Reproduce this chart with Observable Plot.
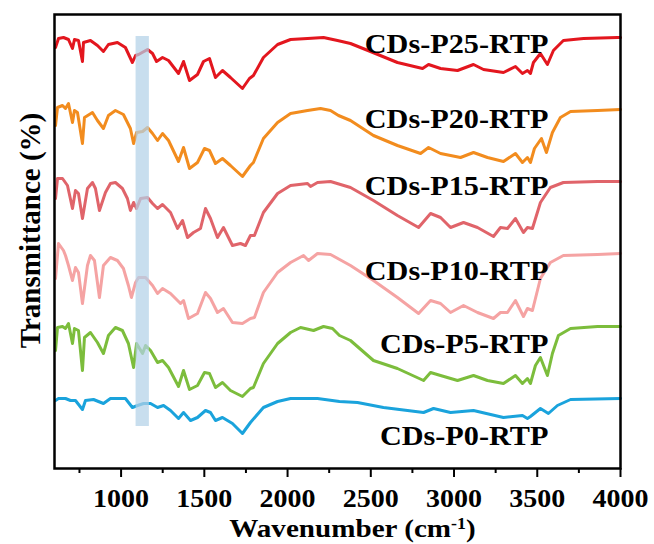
<!DOCTYPE html>
<html><head><meta charset="utf-8">
<script src="https://cdn.jsdelivr.net/npm/d3@7"></script>
<script src="https://cdn.jsdelivr.net/npm/@observablehq/plot@0.6"></script>
<style>body{margin:0;background:#fff}</style>
</head><body><div id="chart"></div>
<script>
// Series names (top to bottom) and colours
const seriesNames = ["CDs-P25-RTP","CDs-P20-RTP","CDs-P15-RTP","CDs-P10-RTP","CDs-P5-RTP","CDs-P0-RTP"];
const seriesColors = ["#e3161e","#f28c1e","#e0646a","#f5a3a3","#7cbd3c","#1aa3dc"];

// [wavenumber (cm-1), offset transmittance (a.u.)]
const p25 = [[606,453],[624,462],[654,463],[684,461],[708,452],[720,461],[744,460],[768,439],[774,458],[816,460],[858,455],[894,449],[924,456],[978,458],[1026,453],[1068,438],[1087,445],[1105,446],[1159,451],[1189,447],[1213,439],[1249,443],[1285,440],[1345,427],[1375,439],[1411,420],[1459,426],[1495,439],[1531,442],[1567,423],[1609,430],[1657,423],[1729,412],[1771,422],[1795,425],[1855,443],[1940,456],[2018,461],[2120,462],[2216,463],[2300,460],[2378,457],[2498,449],[2660,438],[2811,432],[2847,436],[2919,432],[3021,430],[3117,436],[3177,431],[3297,428],[3369,434],[3411,427],[3441,430],[3459,427],[3477,438],[3519,447],[3561,436],[3597,450],[3657,460],[3778,462],[3982,463],[4000,463]];
const p20 = [[606,375],[618,393],[648,395],[666,392],[684,397],[708,378],[720,390],[738,388],[768,357],[780,383],[828,388],[858,380],[894,372],[924,385],[966,390],[1014,386],[1056,372],[1075,357],[1093,368],[1129,369],[1159,373],[1189,367],[1219,360],[1249,367],[1285,360],[1345,339],[1375,353],[1411,332],[1459,338],[1501,352],[1531,350],[1567,337],[1609,342],[1657,335],[1729,324],[1777,335],[1795,338],[1855,362],[1940,378],[2018,387],[2120,390],[2198,392],[2258,390],[2306,385],[2378,380],[2516,365],[2660,355],[2799,347],[2847,353],[2919,347],[3039,343],[3117,348],[3201,343],[3297,339],[3369,347],[3411,338],[3441,343],[3459,338],[3483,352],[3525,362],[3555,348],[3591,368],[3639,383],[3700,389],[3862,390],[4000,391]];
const p15 = [[606,302],[618,322],[648,322],[678,315],[708,292],[726,310],[744,307],[768,282],[798,312],[828,318],[846,312],[870,290],[906,308],[936,317],[966,318],[1008,312],[1038,302],[1056,290],[1075,298],[1093,292],[1117,302],[1159,303],[1189,297],[1219,292],[1249,296],[1297,288],[1339,272],[1369,280],[1399,263],[1435,268],[1477,272],[1507,292],[1537,282],[1579,263],[1615,273],[1669,255],[1717,257],[1747,255],[1777,265],[1801,265],[1855,288],[1940,307],[2018,315],[2120,317],[2138,314],[2180,318],[2258,319],[2378,313],[2516,300],[2660,285],[2787,273],[2859,287],[2919,283],[2979,273],[3057,278],[3141,273],[3237,264],[3279,273],[3321,272],[3369,282],[3417,268],[3441,273],[3471,272],[3519,298],[3579,313],[3657,318],[3862,319],[4000,319]];
const p10 = [[606,222],[624,257],[654,250],[666,245],[684,235],[708,220],[726,233],[744,228],[768,197],[798,235],[816,245],[840,240],[870,203],[894,235],[936,243],[978,240],[1014,232],[1044,215],[1062,203],[1087,218],[1105,223],[1147,223],[1189,215],[1219,207],[1249,212],[1297,207],[1357,197],[1375,200],[1405,182],[1459,187],[1507,208],[1537,202],[1579,188],[1615,192],[1669,178],[1729,177],[1777,182],[1801,183],[1855,208],[1940,228],[2018,238],[2096,245],[2126,240],[2180,247],[2258,246],[2378,235],[2516,220],[2660,203],[2787,187],[2859,200],[2919,197],[2979,188],[3057,195],[3141,188],[3237,182],[3279,188],[3321,188],[3369,200],[3417,184],[3441,192],[3471,190],[3519,222],[3579,238],[3657,245],[3862,246],[4000,247]];
const p5 = [[606,150],[618,173],[648,174],[666,172],[684,177],[708,157],[720,172],[744,170],[768,130],[780,163],[816,168],[858,158],[894,147],[924,165],[966,173],[1008,170],[1044,157],[1075,133],[1093,157],[1129,147],[1147,155],[1177,150],[1219,138],[1249,140],[1285,133],[1345,114],[1375,130],[1411,111],[1459,115],[1501,128],[1531,127],[1567,113],[1609,118],[1657,110],[1729,104],[1777,112],[1795,113],[1855,137],[1940,157],[2018,168],[2078,173],[2156,170],[2216,174],[2270,172],[2312,165],[2378,160],[2516,140],[2660,132],[2817,120],[2859,128],[2919,125],[3021,120],[3117,125],[3201,120],[3297,117],[3369,125],[3411,117],[3441,122],[3459,117],[3489,135],[3519,143],[3561,125],[3591,147],[3627,165],[3700,172],[3862,174],[4000,174]];
const p0 = [[606,100],[624,102],[666,102],[696,100],[726,100],[768,91],[786,100],[834,101],[894,97],[936,102],[1026,102],[1068,93],[1099,95],[1135,97],[1177,97],[1219,93],[1255,95],[1297,90],[1345,82],[1375,88],[1417,80],[1459,83],[1507,90],[1537,88],[1567,80],[1609,83],[1669,77],[1729,67],[1777,78],[1855,93],[1940,99],[2018,102],[2180,102],[2312,99],[2420,98],[2576,93],[2817,88],[2877,92],[2979,88],[3117,90],[3297,83],[3411,85],[3441,82],[3459,84],[3519,92],[3567,87],[3621,95],[3700,101],[4000,102]];
const seriesData = [p25, p20, p15, p10, p5, p0];

// Label positions (wavenumber of right edge, offset transmittance)
const labelX = 3567;
const labelY = [456, 381, 314, 229, 156, 64];

// Axis ticks
const xTicks = [1000, 1500, 2000, 2500, 3000, 3500, 4000];
const xMinorTicks = [750, 1250, 1750, 2250, 2750, 3250, 3750];

// Highlighted band (wavenumber range, offset transmittance range)
const bandX = [1090, 1170];
const bandY = [74, 464];

const rows = seriesNames.flatMap((name, i) => seriesData[i].map(([w, t]) => ({name, w, t})));
const labels = seriesNames.map((name, i) => ({name, x: labelX, y: labelY[i]}));
const band = [{x1: bandX[0], x2: bandX[1], y1: bandY[0], y2: bandY[1]}];

const font = "'Liberation Serif', 'Times New Roman', serif";

const chart = Plot.plot({
  width: 654,
  height: 544,
  marginLeft: 54,
  marginRight: 34,
  marginTop: 14,
  marginBottom: 76,
  style: {fontFamily: font, fontWeight: "bold", color: "#000", background: "#fff"},
  x: {domain: [600, 4000]},
  y: {domain: [32, 486], axis: null},
  color: {domain: seriesNames, range: seriesColors},
  marks: [
    Plot.line(rows, {x: "w", y: "t", z: "name", stroke: "name", strokeWidth: 3, strokeLinejoin: "round"}),
    Plot.rect(band, {x1: "x1", x2: "x2", y1: "y1", y2: "y2", fill: "#b3d1e8", fillOpacity: 0.72}),
    Plot.text(labels, {x: "x", y: "y", text: "name", textAnchor: "end", fontSize: 27, fontWeight: "bold", fill: "#000"}),
    Plot.axisX({ticks: xMinorTicks, tickSize: 5, strokeWidth: 2, tickFormat: () => "", label: null}),
    Plot.axisX({ticks: xTicks, tickSize: 9, tickPadding: 12, strokeWidth: 2, tickFormat: d => String(d), fontSize: 25, fontWeight: "bold", label: null}),
    Plot.text(["Wavenumber (cm-1)"], {frameAnchor: "bottom", text: d => d, dx: 15, dy: 60, fontSize: 26, fontWeight: "bold", textAnchor: "middle", lineAnchor: "middle", fill: "#000"}),
    Plot.text(["Transmittance (%)"], {frameAnchor: "left", text: d => d, rotate: -90, dx: -24, dy: -11, fontSize: 29, fontWeight: "bold", textAnchor: "middle", lineAnchor: "middle", fill: "#000"}),
    Plot.frame({stroke: "#000", strokeWidth: 2.5})
  ]
});
document.getElementById("chart").appendChild(chart);

// superscript in x title
d3.select(chart).selectAll("text").filter(function() { return this.textContent === "Wavenumber (cm-1)"; })
  .each(function() {
    const t = d3.select(this);
    t.text(null);
    t.append("tspan").text("Wavenumber (cm");
    t.append("tspan").attr("font-size", "16px").attr("dy", "-8").text("-1");
    t.append("tspan").attr("dy", "8").text(")");
  });

// the reference lettering is slightly wide: stretch horizontal text
const sx = 1.12;
d3.select(chart).selectAll("text").each(function() {
  const tr = this.getAttribute("transform") || "";
  if (tr.includes("rotate")) return;
  const m = tr.match(/^translate\(([^,\s]+)[,\s]+([^)]+)\)$/);
  if (m) {
    this.setAttribute("transform", tr + ` scale(${sx},1)`);
  } else {
    const x = +this.getAttribute("x") || 0, y = +this.getAttribute("y") || 0;
    this.setAttribute("transform", `translate(${x},${y}) scale(${sx},1) translate(${-x},${-y}) ` + tr);
  }
});
</script>
</body></html>
